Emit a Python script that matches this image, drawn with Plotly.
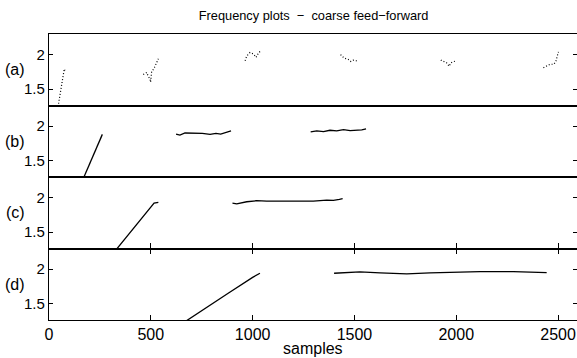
import plotly.graph_objects as go

N = None
# Panel (a): sparse dotted segments
a_x = [42, 46, 55, 65, 72, 75, 78, N,
       463, 480, 488, 496, 499, 504, 516, 529, 537, N,
       963, 971, 987, 1004, 1017, 1028, 1041, N,
       1432, 1449, 1470, 1482, 1495, 1511, N,
       1924, 1937, 1953, 1965, 1973, 1989, 1999, N,
       2428, 2441, 2461, 2480, 2490, 2497, 2502]
a_y = [1.20, 1.27, 1.43, 1.60, 1.73, 1.79, 1.77, N,
       1.71, 1.74, 1.68, 1.65, 1.60, 1.75, 1.80, 1.89, 1.94, N,
       1.91, 1.98, 2.03, 2.01, 1.96, 2.02, 2.06, N,
       2.00, 1.95, 1.93, 1.90, 1.92, 1.91, N,
       1.92, 1.90, 1.88, 1.83, 1.88, 1.90, 1.91, N,
       1.81, 1.83, 1.86, 1.86, 1.91, 1.99, 2.04]

# Panel (b)
b_x = [163, 262, N,
       624, 643, 668, 709, 753, 791, 820, 843, 873, 894, N,
       1285, 1315, 1348, 1380, 1413, 1446, 1479, 1511, 1536, 1557]
b_y = [1.20, 1.88, N,
       1.885, 1.87, 1.90, 1.90, 1.895, 1.88, 1.895, 1.885, 1.91, 1.93, N,
       1.915, 1.93, 1.92, 1.94, 1.93, 1.95, 1.935, 1.94, 1.945, 1.96]

# Panel (c)
c_x = [318, 516, 537, N,
       901, 922, 971, 1020, 1069, 1118, 1184, 1233, 1298, 1364, 1397, 1426, 1442]
c_y = [1.20, 1.92, 1.93, N,
       1.92, 1.91, 1.94, 1.955, 1.95, 1.95, 1.945, 1.94, 1.95, 1.965, 1.96, 1.975, 1.985]

# Panel (d)
d_x = [650, 760, 880, 1000, 1036, N,
       1400, 1462, 1527, 1626, 1757, 1871, 2002, 2117, 2281, 2396, 2444]
d_y = [1.20, 1.42, 1.65, 1.88, 1.94, N,
       1.94, 1.955, 1.96, 1.945, 1.93, 1.945, 1.955, 1.965, 1.965, 1.96, 1.95]

panel_labels = ["(a)", "(b)", "(c)", "(d)"]
y_ticks = [1.5, 2]
y_ticktext = ["1.5", "2"]
x_ticks = [0, 500, 1000, 1500, 2000, 2500]
x_range = [0, 2593]
y_range = [1.26, 2.30]

FONT = "Liberation Sans, Arial, Helvetica, sans-serif"

fig = go.Figure()
series = [(a_x, a_y, "1px,2px", 1.2), (b_x, b_y, "solid", 1.3),
          (c_x, c_y, "solid", 1.3), (d_x, d_y, "solid", 1.3)]
for i, (xs, ys, dash, w) in enumerate(series):
    suffix = "" if i == 0 else str(i + 1)
    fig.add_trace(go.Scatter(x=xs, y=ys, mode="lines", connectgaps=False,
                             line=dict(color="black", width=w, dash=dash),
                             xaxis="x" + suffix, yaxis="y" + suffix,
                             showlegend=False))

domains = [[0.75, 1.0], [0.5, 0.75], [0.25, 0.5], [0.0, 0.25]]
layout = dict(
    width=577, height=358,
    margin=dict(l=49, r=0, t=34, b=38),
    paper_bgcolor="white", plot_bgcolor="white",
    font=dict(family=FONT, size=15, color="black"),
    title=dict(text="Frequency plots \u00a0\u2212\u00a0 coarse feed\u2212forward",
               x=0.5435, xanchor="center", y=1 - 16 / 358, yanchor="middle",
               font=dict(size=12.8, family=FONT, color="black")),
    showlegend=False,
)
for i in range(4):
    suffix = "" if i == 0 else str(i + 1)
    xa = dict(domain=[0, 1], range=x_range, anchor="y" + suffix,
              showline=True, linecolor="black", linewidth=1.2, mirror=True,
              showgrid=False, zeroline=False, tickvals=x_ticks,
              showticklabels=False, ticks="")
    if i >= 1:
        xa["matches"] = "x"
    if i == 2:
        xa["ticks"] = "inside"
        xa["ticklen"] = 5
        xa["tickcolor"] = "black"
    if i == 3:
        xa.update(ticks="inside", ticklen=5, tickcolor="black", mirror="ticks",
                  showticklabels=True,
                  tickfont=dict(size=16, family=FONT))
    ya = dict(domain=domains[i], range=y_range, anchor="x" + suffix,
              showline=True, linecolor="black", linewidth=1.2, mirror="ticks",
              showgrid=False, zeroline=False, tickvals=y_ticks,
              ticktext=y_ticktext, ticks="inside", ticklen=4,
              tickcolor="black", tickfont=dict(size=15, family=FONT))
    layout["xaxis" + suffix] = xa
    layout["yaxis" + suffix] = ya

annotations = []
for i, lab in enumerate(panel_labels):
    suffix = "" if i == 0 else str(i + 1)
    annotations.append(dict(text=lab, xref="paper", yref="y" + suffix + " domain",
                            x=0, y=0.5, xanchor="right", yanchor="middle",
                            xshift=-22, showarrow=False,
                            font=dict(size=16, family=FONT, color="black")))
annotations.append(dict(text="samples", xref="paper", yref="paper",
                        x=0.5, y=0, xanchor="center", yanchor="middle",
                        yshift=-28, showarrow=False,
                        font=dict(size=16, family=FONT, color="black")))
layout["annotations"] = annotations

fig.update_layout(**layout)
fig.write_html("out.html")
